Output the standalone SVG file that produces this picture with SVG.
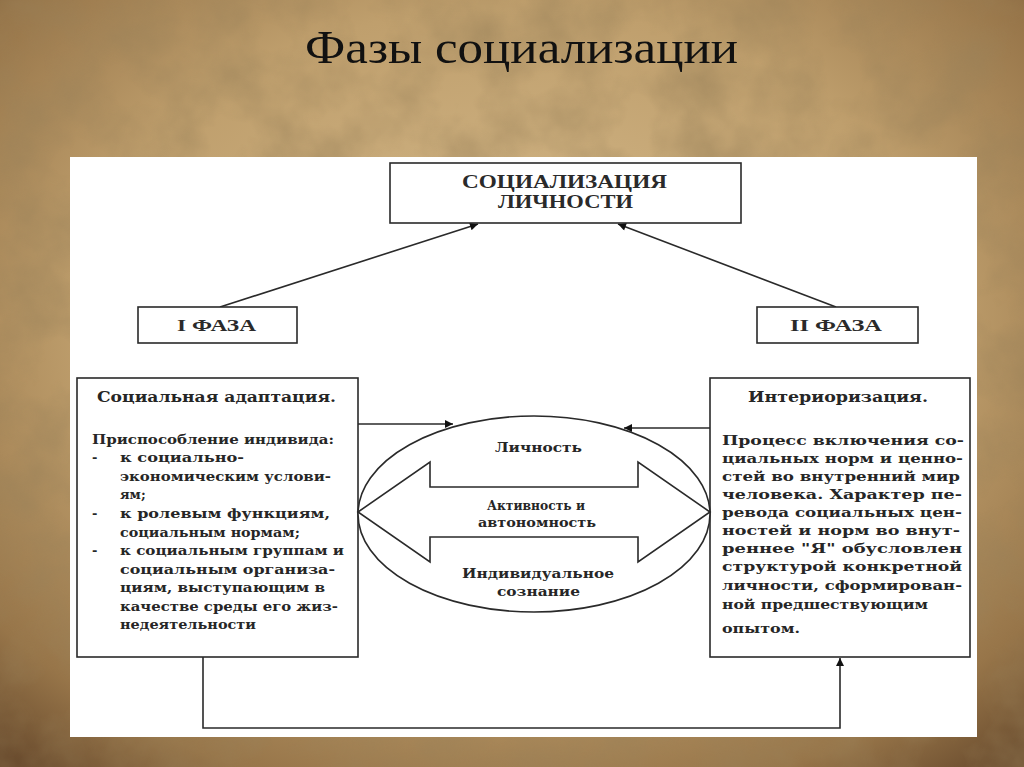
<svg xmlns="http://www.w3.org/2000/svg" width="1024" height="767" viewBox="0 0 1024 767">
<defs>
<radialGradient id="bg" cx="0.5" cy="0.42" r="0.75">
<stop offset="0" stop-color="#d6bb8c"/>
<stop offset="0.55" stop-color="#bf9f6d"/>
<stop offset="0.85" stop-color="#977549"/>
<stop offset="1" stop-color="#6a4c2e"/>
</radialGradient>
<filter id="paper" x="0" y="0" width="100%" height="100%">
<feTurbulence type="fractalNoise" baseFrequency="0.015" numOctaves="4" seed="7"/>
<feColorMatrix type="matrix" values="0 0 0 0 0.32  0 0 0 0 0.22  0 0 0 0 0.1  1.4 0 0 0 -0.5"/>
</filter>
<marker id="arr" viewBox="0 0 10 10" refX="10" refY="5" markerWidth="9" markerHeight="8" markerUnits="userSpaceOnUse" orient="auto">
<path d="M0,0 L10,5 L0,10 z" fill="#111"/>
</marker>
<style>
.box{fill:#fff;stroke:#2a2a2a;stroke-width:1.6}
.ln{fill:none;stroke:#2a2a2a;stroke-width:1.6}
.cap{font-family:"Liberation Serif","Times New Roman",serif;font-weight:bold;fill:#2a2a2a;font-size:19px}
.ph{font-family:"Liberation Serif","Times New Roman",serif;font-weight:bold;fill:#2a2a2a;font-size:17px}
.ser{font-family:"DejaVu Serif","Liberation Serif",serif;font-weight:bold;fill:#262626;font-size:13px}
.hd{font-family:"DejaVu Serif","Liberation Serif",serif;font-weight:bold;fill:#262626;font-size:14px}
.title{font-family:"Liberation Serif","Times New Roman",serif;font-size:46px;fill:#111}
</style>
</defs>
<rect width="1024" height="767" fill="url(#bg)"/>
<rect width="1024" height="767" filter="url(#paper)" opacity="0.75"/>
<text class="title" x="305" y="63" textLength="433" lengthAdjust="spacingAndGlyphs">Фазы социализации</text>
<rect x="70" y="157" width="907" height="580" fill="#fff"/>

<g id="connectors">
<line class="ln" x1="220" y1="307" x2="478" y2="224" marker-end="url(#arr)"/>
<line class="ln" x1="836" y1="307" x2="618" y2="224" marker-end="url(#arr)"/>
<line class="ln" x1="358" y1="424" x2="453" y2="424" marker-end="url(#arr)"/>
<line class="ln" x1="710" y1="428" x2="624" y2="428" marker-end="url(#arr)"/>
<polyline class="ln" points="203,657 203,728 840,728 840,658" marker-end="url(#arr)"/>
</g>

<g id="top">
<rect class="box" x="390" y="163" width="351" height="60"/>
<text class="cap" x="462" y="188" textLength="205" lengthAdjust="spacingAndGlyphs">СОЦИАЛИЗАЦИЯ</text>
<text class="cap" x="498" y="208" textLength="135" lengthAdjust="spacingAndGlyphs">ЛИЧНОСТИ</text>
</g>

<g id="phase1">
<rect class="box" x="138" y="307" width="159" height="36"/>
<text class="ph" x="177" y="331" textLength="79" lengthAdjust="spacingAndGlyphs">I ФАЗА</text>
</g>

<g id="phase2">
<rect class="box" x="757" y="307" width="161" height="36"/>
<text class="ph" x="790" y="331" textLength="92" lengthAdjust="spacingAndGlyphs">II ФАЗА</text>
</g>

<g id="adaptation">
<rect class="box" x="77" y="378" width="281" height="279"/>
<text class="hd" x="97" y="402" textLength="239" lengthAdjust="spacingAndGlyphs">Социальная адаптация.</text>
<text class="ser" x="92" y="444" textLength="242" lengthAdjust="spacingAndGlyphs">Приспособление индивида:</text>
<text class="ser" x="92" y="462">-</text>
<text class="ser" x="120" y="462" textLength="124" lengthAdjust="spacingAndGlyphs">к социально-</text>
<text class="ser" x="120" y="481" textLength="211" lengthAdjust="spacingAndGlyphs">экономическим услови-</text>
<text class="ser" x="120" y="499">ям;</text>
<text class="ser" x="92" y="518">-</text>
<text class="ser" x="120" y="518" textLength="210" lengthAdjust="spacingAndGlyphs">к ролевым функциям,</text>
<text class="ser" x="120" y="537" textLength="180" lengthAdjust="spacingAndGlyphs">социальным нормам;</text>
<text class="ser" x="92" y="555">-</text>
<text class="ser" x="120" y="555" textLength="224" lengthAdjust="spacingAndGlyphs">к социальным группам и</text>
<text class="ser" x="120" y="574" textLength="215" lengthAdjust="spacingAndGlyphs">социальным организа-</text>
<text class="ser" x="120" y="592" textLength="205" lengthAdjust="spacingAndGlyphs">циям, выступающим в</text>
<text class="ser" x="120" y="611" textLength="218" lengthAdjust="spacingAndGlyphs">качестве среды его жиз-</text>
<text class="ser" x="120" y="629" textLength="136" lengthAdjust="spacingAndGlyphs">недеятельности</text>
</g>

<g id="interiorization">
<rect class="box" x="710" y="378" width="260" height="279"/>
<text class="hd" x="748" y="402" textLength="180" lengthAdjust="spacingAndGlyphs">Интериоризация.</text>
<text class="ser" x="722" y="445" textLength="242" lengthAdjust="spacingAndGlyphs">Процесс включения со-</text>
<text class="ser" x="722" y="463" textLength="241" lengthAdjust="spacingAndGlyphs">циальных норм и ценно-</text>
<text class="ser" x="722" y="481" textLength="238" lengthAdjust="spacingAndGlyphs">стей во внутренний мир</text>
<text class="ser" x="722" y="499" textLength="240" lengthAdjust="spacingAndGlyphs">человека. Характер пе-</text>
<text class="ser" x="722" y="517" textLength="240" lengthAdjust="spacingAndGlyphs">ревода социальных цен-</text>
<text class="ser" x="722" y="535" textLength="238" lengthAdjust="spacingAndGlyphs">ностей и норм во внут-</text>
<text class="ser" x="722" y="553" textLength="240" lengthAdjust="spacingAndGlyphs">реннее "Я" обусловлен</text>
<text class="ser" x="722" y="571" textLength="240" lengthAdjust="spacingAndGlyphs">структурой конкретной</text>
<text class="ser" x="722" y="590" textLength="240" lengthAdjust="spacingAndGlyphs">личности, сформирован-</text>
<text class="ser" x="722" y="609" textLength="206" lengthAdjust="spacingAndGlyphs">ной предшествующим</text>
<text class="ser" x="722" y="633" textLength="78" lengthAdjust="spacingAndGlyphs">опытом.</text>
</g>

<g id="personality">
<ellipse class="box" cx="534" cy="514" rx="176" ry="98"/>
<polygon class="box" points="358,512 430,462 430,487 638,487 638,462 710,512 638,562 638,537 430,537 430,562"/>
<text class="ser" x="495" y="452" textLength="87" lengthAdjust="spacingAndGlyphs">Личность</text>
<text class="ser" x="487" y="510" textLength="98" lengthAdjust="spacingAndGlyphs">Активность и</text>
<text class="ser" x="478" y="527" textLength="118" lengthAdjust="spacingAndGlyphs">автономность</text>
<text class="ser" x="462" y="578" textLength="152" lengthAdjust="spacingAndGlyphs">Индивидуальное</text>
<text class="ser" x="497" y="596" textLength="83" lengthAdjust="spacingAndGlyphs">сознание</text>
</g>
</svg>
